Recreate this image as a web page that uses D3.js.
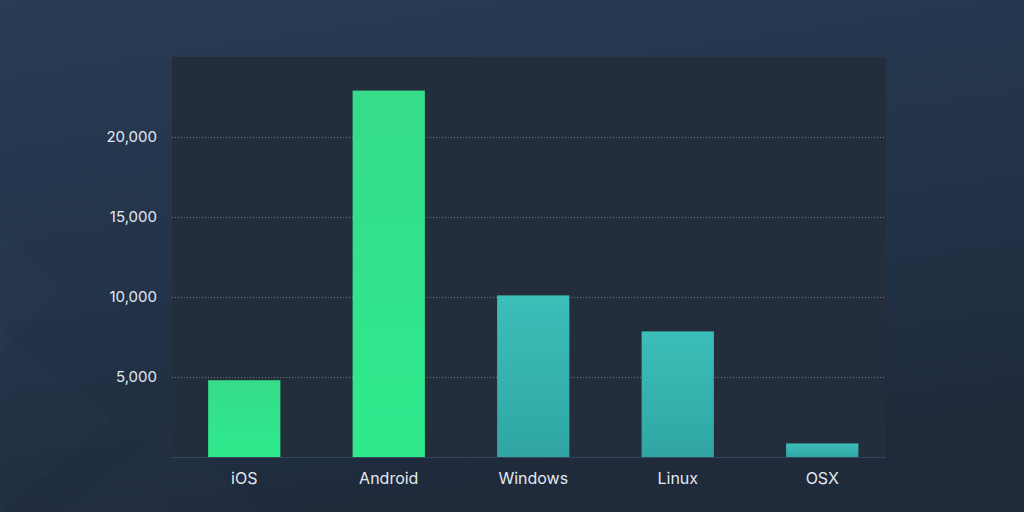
<!DOCTYPE html>
<html><head><meta charset="utf-8">
<script src="https://cdn.jsdelivr.net/npm/d3@7"></script>
<style>html,body{margin:0;padding:0;background:#223044;overflow:hidden}</style>
</head><body>
<svg id="c" width="1024" height="512"></svg>
<script>
const categories = ["iOS", "Android", "Windows", "Linux", "OSX"];
const values = [4800, 22900, 10100, 7850, 850];
const groups = ["mobile", "mobile", "desktop", "desktop", "desktop"];
const yTicks = [5000, 10000, 15000, 20000];

const svg = d3.select("#c");
const defs = svg.append("defs");

const bg = defs.append("linearGradient").attr("id","bg").attr("x1",0).attr("y1",0).attr("x2",0.3).attr("y2",1);
bg.append("stop").attr("offset","0%").attr("stop-color","#283c55");
bg.append("stop").attr("offset","55%").attr("stop-color","#233349");
bg.append("stop").attr("offset","100%").attr("stop-color","#1f2b3b");

const gMob = defs.append("linearGradient").attr("id","gMob").attr("x1",0).attr("y1",0).attr("x2",0).attr("y2",1);
gMob.append("stop").attr("offset","0%").attr("stop-color","#36dc89");
gMob.append("stop").attr("offset","100%").attr("stop-color","#2fea8d");
const gDesk = defs.append("linearGradient").attr("id","gDesk").attr("x1",0).attr("y1",0).attr("x2",0).attr("y2",1);
gDesk.append("stop").attr("offset","0%").attr("stop-color","#3cbeb9");
gDesk.append("stop").attr("offset","100%").attr("stop-color","#30a6a3");

svg.append("rect").attr("width",1024).attr("height",512).attr("fill","url(#bg)");

// faint background geometry
const shapes = [
  [[0,330],[110,420],[0,512]],
  [[0,230],[60,290],[0,350]],
  [[60,512],[170,430],[260,512]]
];
svg.append("g").selectAll("path").data(shapes).join("path")
  .attr("d", d => "M" + d.join("L") + "Z")
  .attr("fill","#ffffff").attr("fill-opacity",0.012)
  .attr("stroke","#3a506c").attr("stroke-opacity",0.18);

const margin = {left:172, right:886, top:57, bottom:457};
const x = d3.scaleBand().domain(categories).range([172, 894.5]).paddingInner(0.5).paddingOuter(0.25);
const y = d3.scaleLinear().domain([0, 25000]).range([margin.bottom, margin.top]);

svg.append("rect").attr("x",margin.left).attr("y",margin.top)
  .attr("width",margin.right-margin.left).attr("height",margin.bottom-margin.top)
  .attr("fill","#232d3b");

// gridlines
svg.append("g").selectAll("line").data(yTicks).join("line")
  .attr("x1",margin.left).attr("x2",margin.right)
  .attr("y1",d=>y(d)+0.5).attr("y2",d=>y(d)+0.5)
  .attr("stroke","#6d7885").attr("stroke-width",1).attr("stroke-dasharray","1,2");

// y axis labels
const yAxis = d3.axisLeft(y).tickValues(yTicks).tickFormat(d3.format(",")).tickSize(0).tickPadding(15);
const ya = svg.append("g").attr("transform",`translate(${margin.left},0)`).call(yAxis);
ya.select(".domain").remove();
ya.selectAll("text").attr("fill","#e3e8ef").style("font-family","Inter, 'Open Sans', sans-serif").style("font-size","15px");

// bars
svg.append("g").selectAll("rect").data(values).join("rect")
  .attr("x",(d,i)=>x(categories[i]))
  .attr("y",d=>y(d))
  .attr("width",x.bandwidth())
  .attr("height",d=>y(0)-y(d))
  .attr("fill",(d,i)=>groups[i]==="mobile"?"url(#gMob)":"url(#gDesk)");

// baseline
svg.append("line").attr("x1",margin.left).attr("x2",margin.right)
  .attr("y1",margin.bottom+0.5).attr("y2",margin.bottom+0.5)
  .attr("stroke","#34465b").attr("stroke-width",1);

// x axis
const xAxis = d3.axisBottom(x).tickSize(0).tickPadding(16);
const xa = svg.append("g").attr("transform",`translate(0,${margin.bottom})`).call(xAxis);
xa.select(".domain").remove();
xa.selectAll("text").attr("fill","#e3e8ef").style("font-family","Inter, 'Open Sans', sans-serif").style("font-size","16px");
</script>
</body></html>
